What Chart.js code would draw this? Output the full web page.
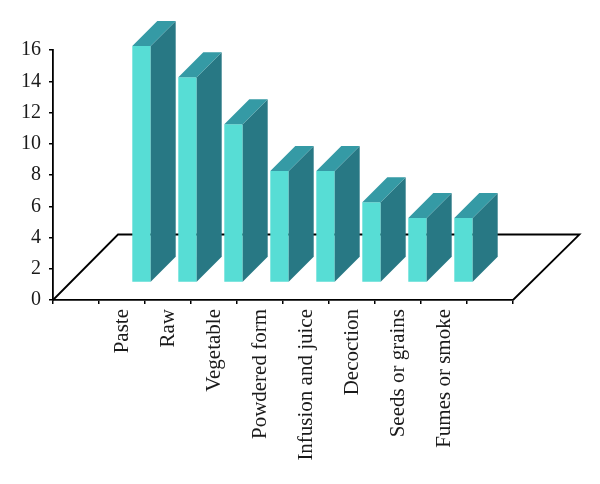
<!DOCTYPE html>
<html>
<head>
<meta charset="utf-8">
<style>
  html, body { margin: 0; padding: 0; background: #fff; }
  #box { width: 600px; height: 484px; }
</style>
<script src="https://cdn.jsdelivr.net/npm/chart.js@4"></script>
</head>
<body>
<div id="box"><canvas id="chart"></canvas></div>
<script>
// blank slots at both ends, the picture leaves one empty category each side
var categories = ["", "Paste", "Raw", "Vegetable", "Powdered form", "Infusion and juice", "Decoction", "Seeds or grains", "Fumes or smoke", ""];
var counts = [null, 16, 14, 11, 8, 8, 6, 5, 5, null];

var frontColor = "#57ddd5";
var sideColor = "#287884";
var topColor = "#359aa5";

// 3D look: front face is shifted onto the floor, depth goes up and right
var shiftX = 19.5, shiftY = -4, depth = 25;
var floorX = 65, floorY = 65.5;

var floorPlugin = {
    id: "floor",
    beforeDatasetsDraw: function(chart) {
        var a = chart.chartArea, ctx = chart.ctx;
        ctx.save();
        ctx.strokeStyle = "#000";
        ctx.lineWidth = 1.8;
        ctx.beginPath();
        ctx.moveTo(a.left, a.bottom);
        ctx.lineTo(a.left + floorX, a.bottom - floorY);
        ctx.lineTo(a.right + floorX + 1.5, a.bottom - floorY);
        ctx.lineTo(a.right, a.bottom);
        ctx.stroke();
        ctx.restore();
    }
};

var boxPlugin = {
    id: "box3d",
    beforeDatasetDraw: function(chart) {
        chart.ctx.save();
        chart.ctx.translate(shiftX, shiftY);
    },
    afterDatasetDraw: function(chart, args) {
        var ctx = chart.ctx;
        args.meta.data.forEach(function(bar, i) {
            if (counts[i] === null) return;
            var l = bar.x - bar.width / 2, r = bar.x + bar.width / 2;
            // side
            ctx.fillStyle = sideColor;
            ctx.beginPath();
            ctx.moveTo(r, bar.y);
            ctx.lineTo(r + depth, bar.y - depth);
            ctx.lineTo(r + depth, bar.base - depth);
            ctx.lineTo(r, bar.base);
            ctx.closePath();
            ctx.fill();
            // top
            ctx.fillStyle = topColor;
            ctx.beginPath();
            ctx.moveTo(l, bar.y);
            ctx.lineTo(l + depth, bar.y - depth);
            ctx.lineTo(r + depth, bar.y - depth);
            ctx.lineTo(r, bar.y);
            ctx.closePath();
            ctx.fill();
        });
        ctx.restore();
    }
};

new Chart(document.getElementById("chart"), {
    type: "bar",
    data: {
        labels: categories,
        datasets: [{
            data: counts,
            base: 0.91,
            backgroundColor: frontColor,
            barPercentage: 0.4,
            categoryPercentage: 1,
            clip: false
        }]
    },
    options: {
        responsive: true,
        maintainAspectRatio: false,
        animation: false,
        layout: { padding: { top: 50, right: 87, left: 0, bottom: 0 } },
        plugins: { legend: { display: false }, tooltip: { enabled: false } },
        scales: {
            x: {
                afterFit: function(s) { s.height = 184; },
                border: { color: "#000", width: 1.8 },
                grid: { offset: true, drawOnChartArea: false, color: "#000", tickLength: 4, lineWidth: 1.5 },
                ticks: {
                    autoSkip: false,
                    minRotation: 90,
                    maxRotation: 90,
                    padding: 5,
                    color: "#1a1a1a",
                    font: { family: "'Liberation Serif'", size: 21 }
                }
            },
            y: {
                min: 0,
                max: 16,
                afterFit: function(s) { s.width = 53; },
                border: { color: "#000", width: 1.8 },
                grid: { drawOnChartArea: false, color: "#000", tickLength: 4, lineWidth: 1.5 },
                ticks: {
                    stepSize: 2,
                    padding: 8,
                    color: "#1a1a1a",
                    font: { family: "'Liberation Serif'", size: 20 }
                }
            }
        }
    },
    plugins: [floorPlugin, boxPlugin]
});
</script>
</body>
</html>
